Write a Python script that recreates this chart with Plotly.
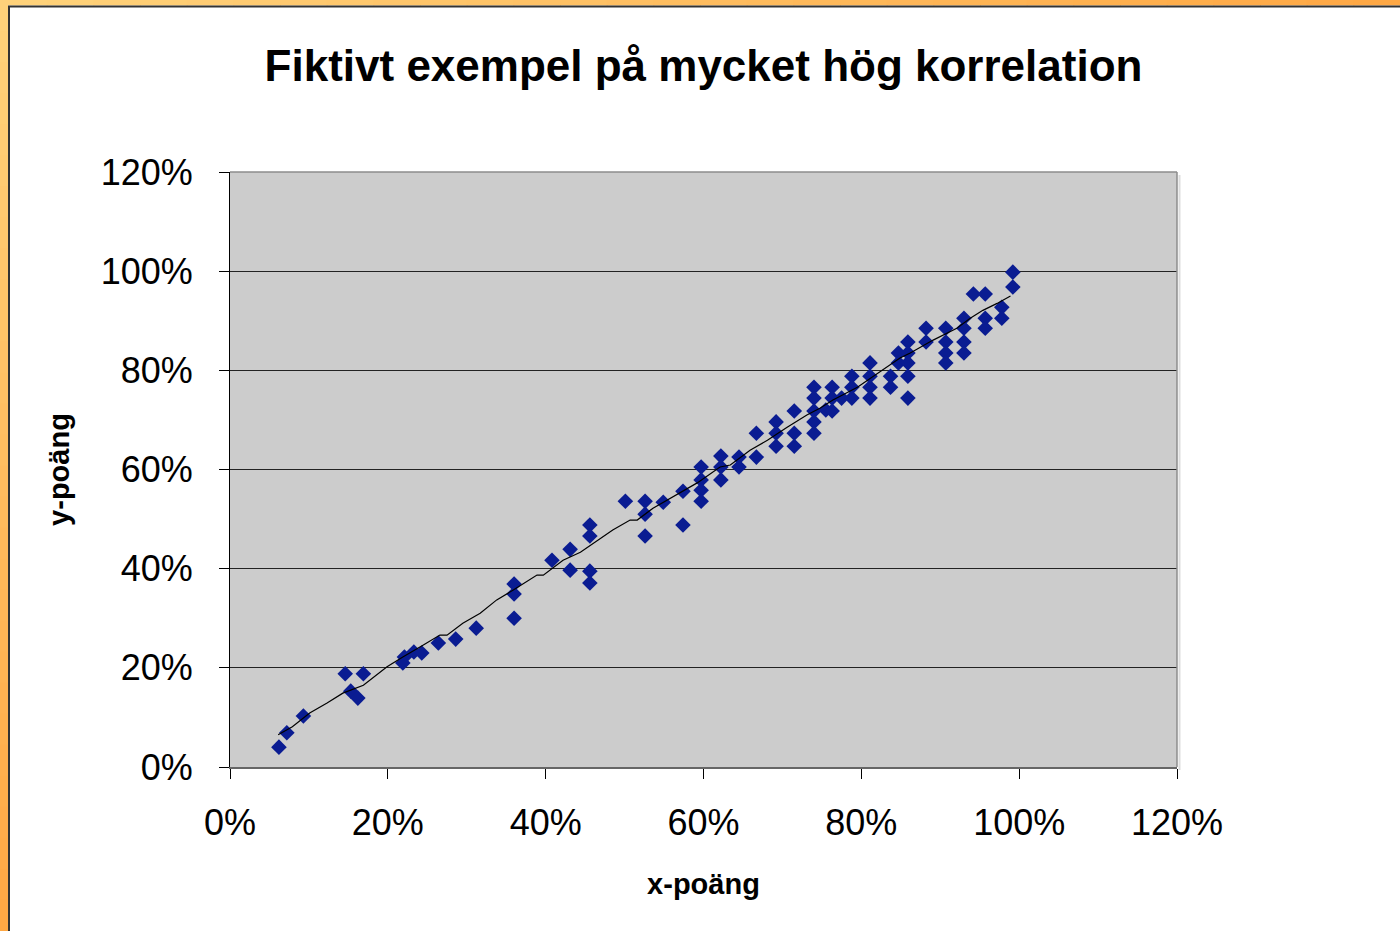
import plotly.graph_objects as go

# Scatter data (fractions)
x_vals = [0.062, 0.072, 0.093, 0.146, 0.153, 0.162, 0.169, 0.221, 0.219, 0.233,
          0.243, 0.264, 0.286, 0.312, 0.360, 0.360, 0.360, 0.408, 0.431, 0.431,
          0.456, 0.456, 0.456, 0.456, 0.501, 0.526, 0.526, 0.526, 0.549, 0.574,
          0.574, 0.597, 0.597, 0.597, 0.597, 0.622, 0.622, 0.622, 0.645, 0.645,
          0.667, 0.667, 0.692, 0.692, 0.692, 0.715, 0.715, 0.715, 0.740, 0.740,
          0.740, 0.740, 0.740, 0.755, 0.763, 0.763, 0.763, 0.775, 0.788, 0.788,
          0.788, 0.811, 0.811, 0.811, 0.811, 0.837, 0.837, 0.847, 0.847, 0.859,
          0.859, 0.859, 0.859, 0.859, 0.882, 0.882, 0.907, 0.907, 0.907, 0.907,
          0.930, 0.930, 0.930, 0.930, 0.942, 0.957, 0.957, 0.957, 0.978, 0.978,
          0.992, 0.992]
y_vals = [0.040, 0.069, 0.103, 0.188, 0.153, 0.139, 0.188, 0.222, 0.210, 0.232,
          0.230, 0.250, 0.258, 0.280, 0.369, 0.349, 0.300, 0.417, 0.439, 0.397,
          0.488, 0.466, 0.395, 0.371, 0.536, 0.536, 0.510, 0.466, 0.534, 0.556,
          0.488, 0.605, 0.579, 0.558, 0.536, 0.627, 0.605, 0.579, 0.625, 0.605,
          0.673, 0.625, 0.696, 0.673, 0.647, 0.718, 0.673, 0.647, 0.766, 0.744,
          0.718, 0.696, 0.673, 0.720, 0.766, 0.744, 0.718, 0.744, 0.788, 0.766,
          0.744, 0.815, 0.788, 0.766, 0.744, 0.788, 0.766, 0.835, 0.815, 0.857,
          0.835, 0.815, 0.788, 0.744, 0.885, 0.857, 0.885, 0.857, 0.835, 0.815,
          0.905, 0.885, 0.857, 0.835, 0.954, 0.954, 0.905, 0.885, 0.927, 0.905,
          0.998, 0.968]

# Trend line
trend_x = [0.061, 0.079, 0.101, 0.123, 0.143, 0.169, 0.199, 0.219, 0.245, 0.266,
           0.275, 0.295, 0.317, 0.338, 0.359, 0.389, 0.397, 0.422, 0.444, 0.485,
           0.507, 0.516, 0.536, 0.570, 0.592, 0.621, 0.634, 0.659, 0.681, 0.706,
           0.731, 0.748, 0.764, 0.795, 0.820, 0.849, 0.862, 0.891, 0.921, 0.938,
           0.954, 0.972, 0.989]
trend_y = [0.065, 0.081, 0.109, 0.129, 0.149, 0.165, 0.202, 0.222, 0.246, 0.266,
           0.266, 0.290, 0.310, 0.337, 0.357, 0.387, 0.387, 0.417, 0.433, 0.478,
           0.498, 0.498, 0.522, 0.552, 0.573, 0.605, 0.609, 0.639, 0.659, 0.685,
           0.710, 0.724, 0.740, 0.766, 0.794, 0.825, 0.835, 0.861, 0.885, 0.905,
           0.921, 0.935, 0.950]

tick_vals = [0, 0.2, 0.4, 0.6, 0.8, 1.0, 1.2]
tick_text = ["0%", "20%", "40%", "60%", "80%", "100%", "120%"]

title_text = "Fiktivt exempel på mycket hög korrelation"
x_title = "x-poäng"
y_title = "y-poäng"

FONT = "Arial, 'Liberation Sans', sans-serif"
W, H = 1400, 931
L, R, T, B = 230, 223, 172, 164
PW, PH = W - L - R, H - T - B

fig = go.Figure()
fig.add_trace(go.Scatter(x=x_vals, y=y_vals, mode="markers",
                         marker=dict(symbol="diamond", size=12, color="#0A1C92",
                                     line=dict(width=0)),
                         showlegend=False, hoverinfo="x+y"))
fig.add_trace(go.Scatter(x=trend_x, y=trend_y, mode="lines",
                         line=dict(color="black", width=1.2),
                         showlegend=False, hoverinfo="skip"))

def px2paper_x(p):
    return (p - L) / PW

def px2paper_y(p):
    return (H - B - p) / PH

def lerp_col(c1, c2, t):
    a = [int(c1[i:i+2], 16) for i in (1, 3, 5)]
    b = [int(c2[i:i+2], 16) for i in (1, 3, 5)]
    return "#%02X%02X%02X" % tuple(round(a[k] + (b[k] - a[k]) * t) for k in range(3))

shapes = []
N = 30
# top orange bar (gradient left->right)
for i in range(N):
    x0 = W * i / N
    x1 = W * (i + 1) / N + 1
    shapes.append(dict(type="rect", xref="paper", yref="paper",
                       x0=px2paper_x(x0), x1=px2paper_x(x1),
                       y0=px2paper_y(0), y1=px2paper_y(5.5),
                       fillcolor=lerp_col("#FFD27A", "#FFA844", i / (N - 1)),
                       line=dict(width=0), layer="above"))
# left orange bar (gradient top->bottom)
for i in range(N):
    y0 = H * i / N
    y1 = H * (i + 1) / N + 1
    shapes.append(dict(type="rect", xref="paper", yref="paper",
                       x0=px2paper_x(0), x1=px2paper_x(8),
                       y0=px2paper_y(y0), y1=px2paper_y(y1),
                       fillcolor=lerp_col("#FFD27A", "#FFA844", i / (N - 1)),
                       line=dict(width=0), layer="above"))
# dark inner frame lines
shapes.append(dict(type="line", xref="paper", yref="paper",
                   x0=px2paper_x(8), x1=px2paper_x(W),
                   y0=px2paper_y(6.5), y1=px2paper_y(6.5),
                   line=dict(color="#333333", width=2), layer="above"))
shapes.append(dict(type="line", xref="paper", yref="paper",
                   x0=px2paper_x(9), x1=px2paper_x(9),
                   y0=px2paper_y(6), y1=px2paper_y(H),
                   line=dict(color="#333333", width=2), layer="above"))
# plot area border (top/right gray)
shapes.append(dict(type="line", xref="paper", yref="paper", x0=0, x1=1, y0=1, y1=1,
                   line=dict(color="#8C8C8C", width=1.5), layer="above"))
shapes.append(dict(type="line", xref="paper", yref="paper", x0=1, x1=1, y0=0, y1=1,
                   line=dict(color="#8C8C8C", width=1.5), layer="above"))
# light shadow on the right of plot area
shapes.append(dict(type="line", xref="paper", yref="paper",
                   x0=px2paper_x(1179.5), x1=px2paper_x(1179.5),
                   y0=px2paper_y(770), y1=px2paper_y(175),
                   line=dict(color="#DDDDDD", width=2), layer="below"))

fig.update_layout(
    width=W, height=H,
    margin=dict(l=L, r=R, t=T, b=B, pad=0),
    paper_bgcolor="white",
    plot_bgcolor="#CCCCCC",
    font=dict(family=FONT, color="black"),
    title=dict(text="<b>" + title_text + "</b>", x=0.5, xref="paper",
               y=1 - 66 / H, yref="container", yanchor="middle",
               font=dict(size=44, family=FONT, color="black")),
    shapes=shapes,
    showlegend=False,
)
fig.update_xaxes(range=[0, 1.2], tickvals=tick_vals, ticktext=tick_text,
                 showgrid=False, zeroline=False,
                 showline=True, linecolor="#666666", linewidth=1.5,
                 ticks="outside", ticklen=10, tickcolor="black", tickwidth=1,
                 ticklabelstandoff=13,
                 tickfont=dict(size=36, family=FONT, color="black"),
                 title=dict(text="<b>" + x_title + "</b>", standoff=32,
                            font=dict(size=29, family=FONT, color="black")))
fig.update_yaxes(range=[0, 1.2], tickvals=tick_vals, ticktext=tick_text,
                 showgrid=True, gridcolor="#222222", gridwidth=1,
                 zeroline=False,
                 showline=True, linecolor="black", linewidth=1,
                 ticks="outside", ticklen=10, tickcolor="black", tickwidth=1,
                 ticklabelstandoff=19,
                 tickfont=dict(size=36, family=FONT, color="black"),
                 title=dict(text="<b>" + y_title + "</b>", standoff=22,
                            font=dict(size=29, family=FONT, color="black")))

fig.write_html("out.html", config={"displayModeBar": False},
               post_script="document.body.style.margin='0px';document.body.style.padding='0px';")
